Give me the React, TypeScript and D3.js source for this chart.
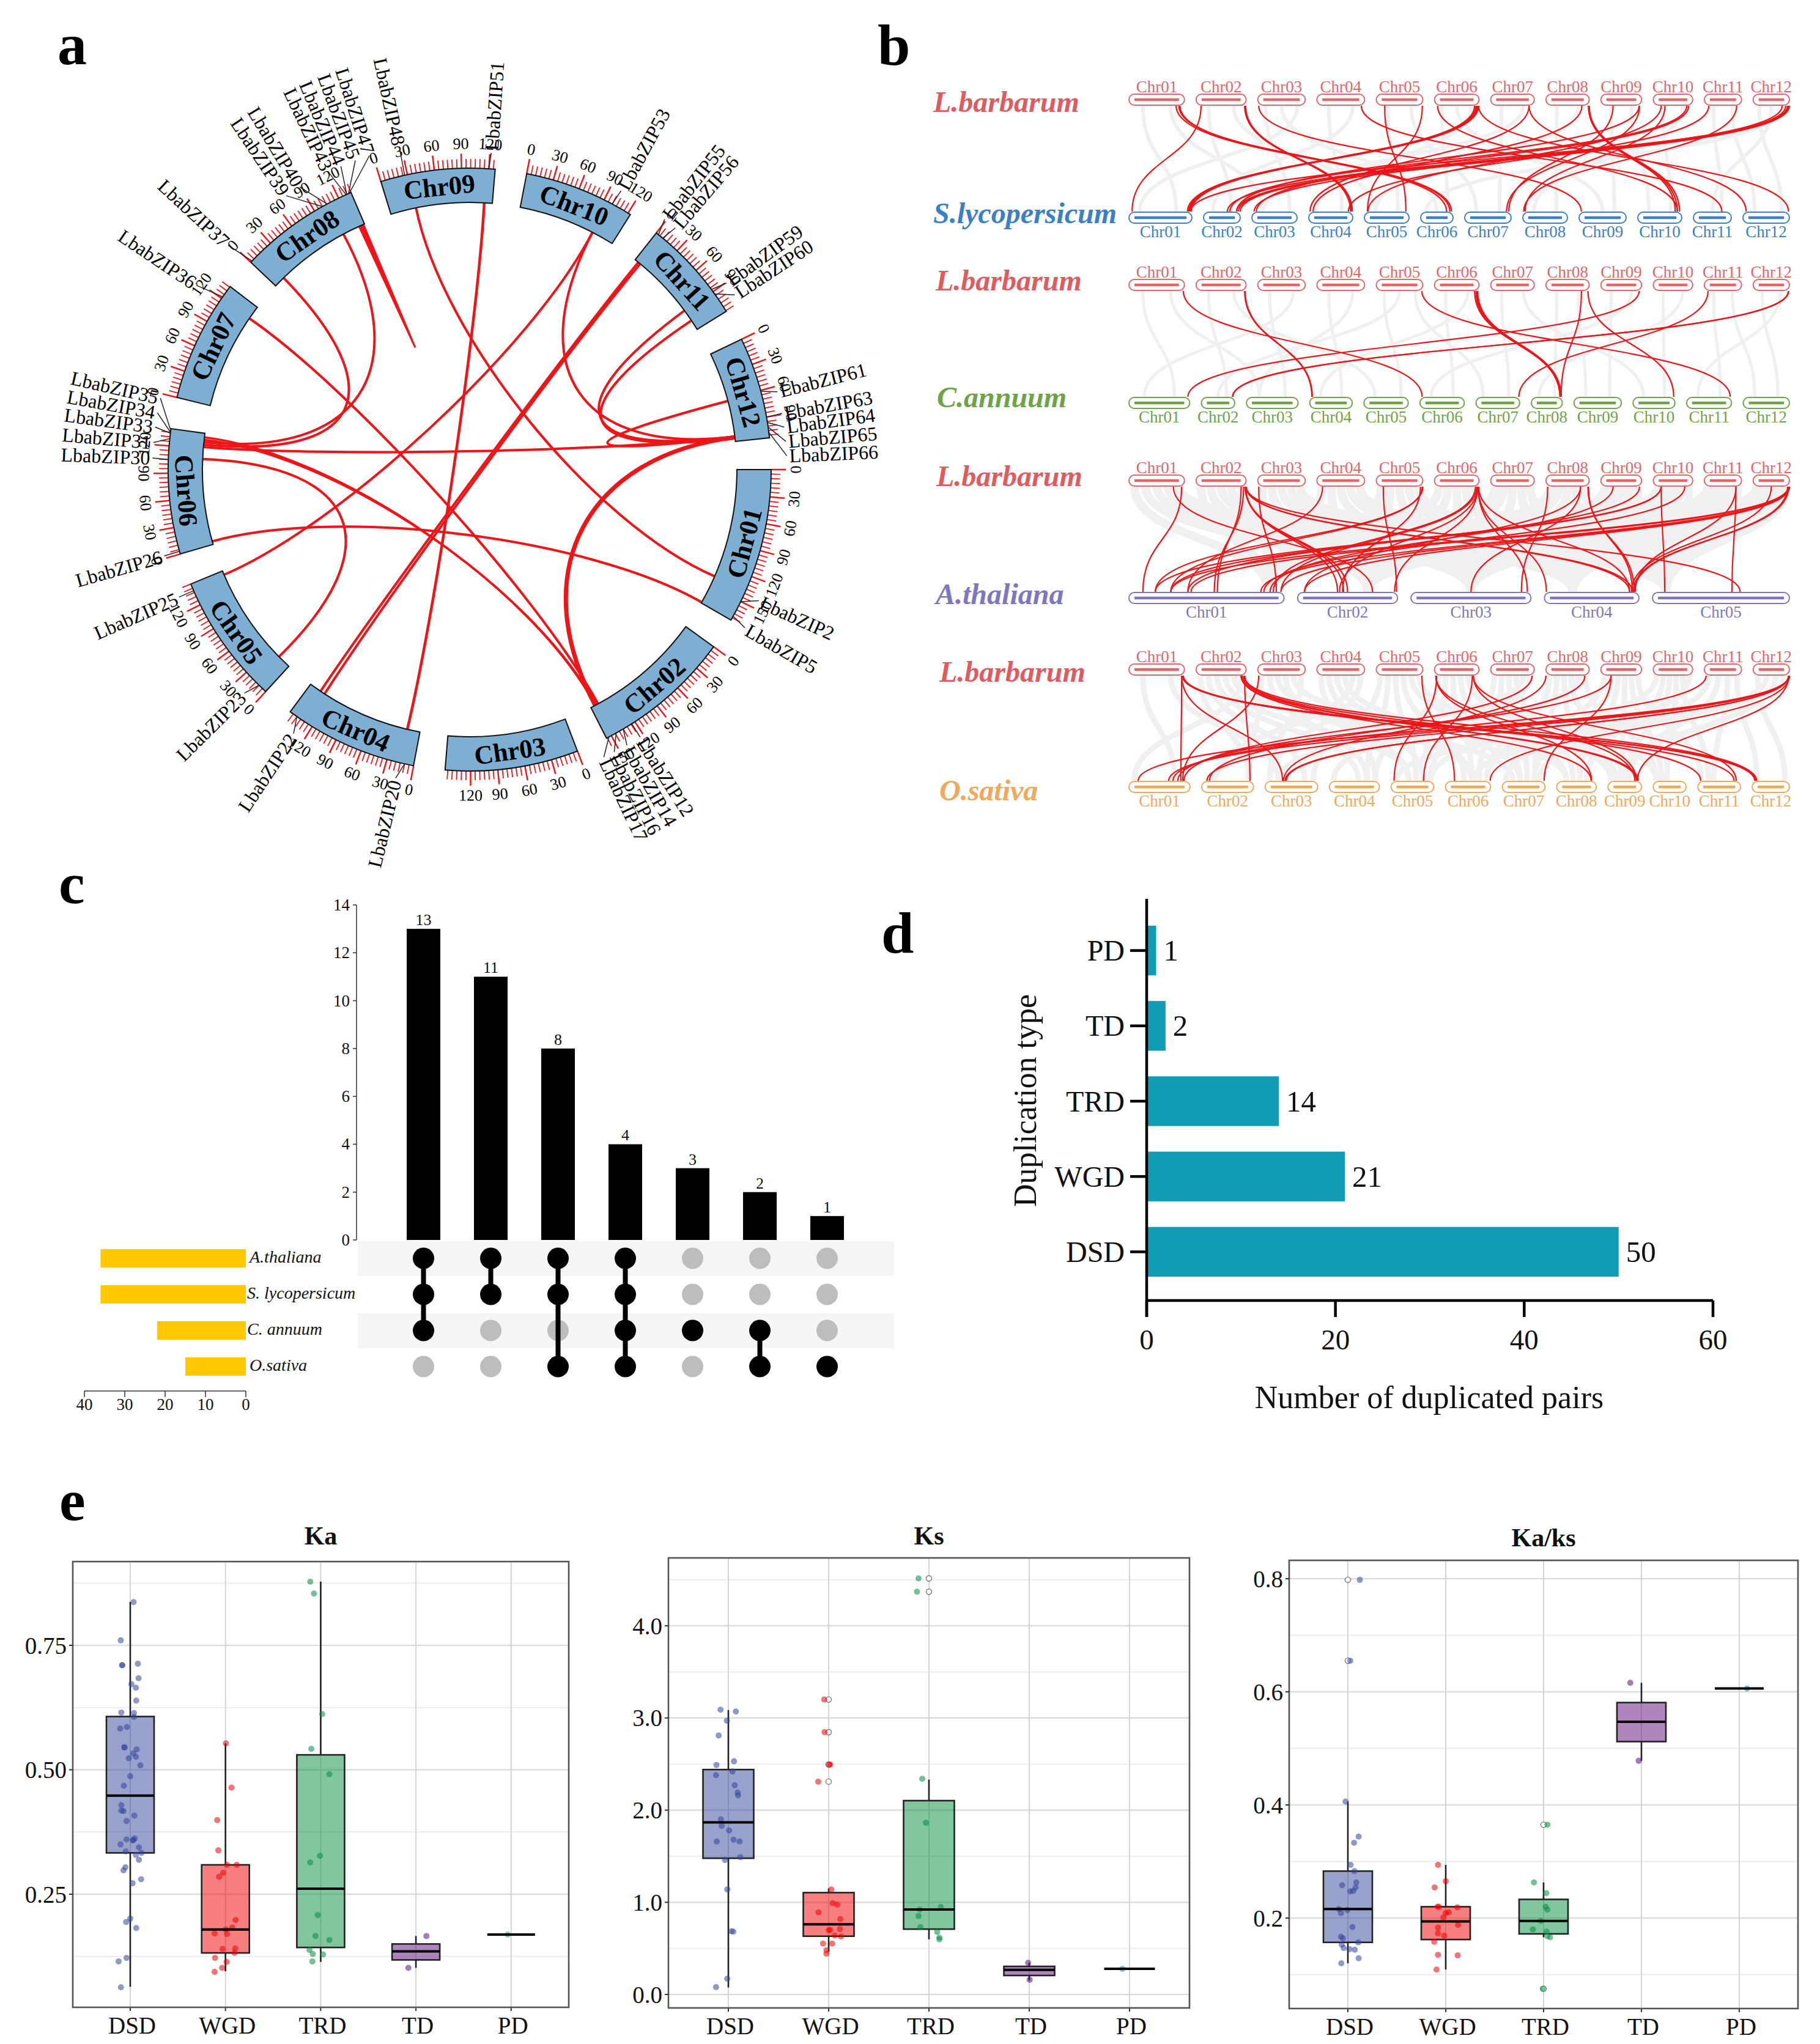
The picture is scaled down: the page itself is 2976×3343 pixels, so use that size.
import React from 'react';
import * as d3 from 'd3';

const SERIF = "'Liberation Serif', 'Times New Roman', serif";
const RED = '#ee1418';

// ---------- panel a + b: genome
const chromNames = ['Chr01', 'Chr02', 'Chr03', 'Chr04', 'Chr05', 'Chr06', 'Chr07', 'Chr08', 'Chr09', 'Chr10', 'Chr11', 'Chr12'];
const chromLengths = [173, 156, 148, 149, 145, 139, 136, 135, 127, 123, 116, 113];

const geneNames = ['LbabZIP2', 'LbabZIP5', 'LbabZIP12', 'LbabZIP14', 'LbabZIP16', 'LbabZIP17', 'LbabZIP20', 'LbabZIP22', 'LbabZIP23', 'LbabZIP25', 'LbabZIP26', 'LbabZIP30', 'LbabZIP31', 'LbabZIP33', 'LbabZIP34', 'LbabZIP35', 'LbabZIP36', 'LbabZIP37', 'LbabZIP39', 'LbabZIP40', 'LbabZIP43', 'LbabZIP44', 'LbabZIP45', 'LbabZIP47', 'LbabZIP48', 'LbabZIP51', 'LbabZIP53', 'LbabZIP55', 'LbabZIP56', 'LbabZIP59', 'LbabZIP60', 'LbabZIP61', 'LbabZIP63', 'LbabZIP64', 'LbabZIP65', 'LbabZIP66'];
const geneChroms = [1, 1, 2, 2, 2, 2, 4, 4, 5, 5, 6, 6, 6, 6, 6, 6, 7, 8, 8, 8, 8, 8, 8, 8, 9, 9, 10, 11, 11, 11, 11, 12, 12, 12, 12, 12];
const genePos = [150, 168, 124, 135, 144, 153, 10, 140, 10, 137, 3, 105, 128, 134, 135, 137, 122, 2, 100, 106, 129, 130, 132, 133, 27, 120, 100, 3, 9, 87, 93, 61, 90, 96, 101, 107];
// label fan-out angle, the labels do not sit exactly over their genes
const geneLabelDeg = [114.4, 119.9, 147.5, 150.3, 152.9, 155, 193.5, 213.7, 225.2, 246.3, 254.2, 272.1, 274.9, 277.7, 280.3, 283, 304, 312.9, 326.2, 329, 334.6, 337, 339.7, 342.3, 347.7, 3.9, 28.5, 37.9, 40.4, 54, 56.6, 75.8, 79.8, 82.3, 84.9, 87.5];

// chrA, mbA, chrB, mbB, weight
const circosLinks = [
  [8, 106, 6, 128, 4], [8, 14, 6, 125, 4], [7, 119, 2, 146, 4], [6, 134, 2, 150, 3.5], [6, 131, 2, 149, 3.5],
  [9, 32, 1, 136, 4], [9, 117, 4, 16, 4.5], [10, 95, 5, 140, 4], [10, 95, 12, 107, 4], [11, 5, 4, 134, 4],
  [11, 8, 4, 128, 4], [11, 88, 12, 107, 4], [11, 103, 12, 109, 4], [12, 62, 12, 107, 4], [12, 108, 2, 150, 7],
  [6, 4, 1, 172, 4], [6, 107, 5, 17, 4], [6, 122, 12, 107, 4],
];
const truncatedLink = { chrom: 8, pos: 130, depth: 0.5 };

const rowTop = chromLengths;
const rowTomato = [103, 60, 74, 72, 73, 53, 76, 73, 77, 72, 62, 76];
const rowPepper = [100, 55, 85, 70, 73, 73, 72, 51, 78, 69, 74, 76];
const rowArabidopsis = [256, 165, 198, 156, 226];
const rowRice = [100, 85, 86, 82, 70, 74, 70, 65, 55, 54, 70, 61];

// chrom top, fraction along it, chrom bottom, fraction along it
const redTomato = [
  [1, .85, 6, .8], [1, .9, 6, .95], [1, .92, 6, .9], [2, .1, 1, .05], [2, .97, 4, .95], [2, .98, 4, .97], [2, .99, 4, .99],
  [3, .02, 9, .05], [4, .93, 11, .75], [5, .18, 5, .93], [5, .99, 5, .07], [6, .07, 10, .9], [6, .9, 1, .93], [6, .93, 1, .95],
  [6, .95, 1, .96], [6, .97, 1, .97], [6, .99, 1, .99], [6, .99, 12, .98], [7, .88, 4, .03], [7, .88, 12, .07], [8, .83, 4, .1],
  [8, .98, 10, .85], [8, .99, 10, .9], [8, 1, 10, .95], [9, .3, 7, .95], [9, .94, 2, .9], [10, .2, 5, .08], [10, .85, 2, .72],
  [10, .9, 3, .1], [11, .12, 4, .9], [11, .87, 8, .02], [12, .8, 2, .65], [12, .9, 2, .9], [12, .95, 2, .95], [12, .97, 1, .98],
  [12, .99, 2, 1], [12, 1, 3, .05], [9, .95, 7, .9], [10, .3, 8, .05],
];
const redPepper = [
  [1, .98, 6, .05], [2, .97, 4, .05], [2, .98, 4, .06], [5, .98, 11, .97], [6, .9, 8, .92], [6, .93, 8, .94], [6, .95, 8, .95],
  [6, .97, 8, .96], [8, .82, 8, .96], [8, .97, 10, .97], [9, .94, 1, .97], [11, .1, 7, .98], [12, .97, 2, .93], [12, .98, 2, .94],
];
const redArabidopsis = [
  [1, .95, 1, .09], [1, .8, 2, .75], [2, .99, 2, .4], [2, .99, 2, .46], [2, .98, 2, .5], [2, .95, 1, .55], [2, .9, 1, .57],
  [2, 1, 4, .9], [2, 1, 4, .93], [2, 1, 5, .64], [3, .02, 1, .95], [4, .12, 1, .38], [5, .15, 2, .99], [5, 1, 1, .17],
  [5, .99, 1, .27], [5, .95, 2, .45], [6, .92, 1, .93], [6, .95, 1, .98], [6, .97, 2, .42], [6, .97, 2, .97], [6, .98, 4, .02],
  [6, .98, 3, .97], [6, .99, 4, .9], [8, .04, 3, .92], [8, .8, 3, .5], [8, .8, 2, .07], [8, .98, 4, .93], [8, .97, 4, .95],
  [9, .3, 1, .91], [9, .95, 1, .38], [10, .2, 1, .17], [10, .2, 1, .27], [10, .2, 5, .09], [10, .8, 1, .87], [11, .85, 5, .58],
  [11, .85, 4, .96], [12, .5, 4, .92], [12, .95, 4, .94], [12, .98, 4, .95], [12, .97, 1, .27], [12, .98, 1, .4], [12, .98, 1, .85],
  [12, 1, 1, .98], [12, 1, 2, .07],
];
const redRice = [
  [1, .95, 1, .85], [1, .95, 3, .33], [1, .96, 12, .07], [1, .97, 12, .1], [1, .98, 12, .12], [1, .97, 11, .85], [2, .9, 8, .87],
  [2, .9, 9, .85], [2, .92, 11, .07], [2, .97, 2, .93], [2, .95, 12, .11], [2, .97, 9, .9], [3, .02, 1, .88], [5, .98, 6, .2],
  [6, .05, 5, .07], [6, .03, 8, .88], [6, .03, 9, .8], [6, .85, 5, .76], [6, .87, 9, .85], [6, .87, 11, .9], [7, .95, 1, .9],
  [8, 0, 3, .35], [8, .9, 2, .15], [9, .25, 7, .98], [9, .25, 1, .8], [11, .05, 1, .72], [12, 1, 1, .15], [12, 1, 1, .65],
  [12, 1, 6, .99], [12, .98, 9, .88], [12, .98, 3, .4], [12, .98, 2, .1], [12, .99, 3, .38],
];

// background synteny: for every top chromosome the bottom chromosomes it pairs with
const grayTomato = [[1, 3], [2, 5], [3, 6, 1], [4, 2], [5, 7], [6, 9, 4], [7, 3], [8, 5], [9, 10], [10, 8], [11, 12], [12, 11, 6]];
const grayPepper = [[1, 3], [2, 5], [3, 1], [4, 3], [5, 2, 7], [6, 4], [7, 10], [8, 9], [9, 6], [10, 8], [11, 12], [12, 11]];
const grayArabidopsis = [[1, 2, 3, 4, 5], [1, 2, 3, 4, 5], [1, 2, 3, 4, 5], [1, 2, 3, 4, 5], [1, 2, 3, 4, 5], [1, 2, 3, 4, 5], [1, 2, 3, 4, 5], [1, 2, 3, 4, 5], [1, 2, 3, 4, 5], [1, 2, 3, 4, 5], [1, 2, 3, 4, 5], [1, 2, 3, 4, 5]];
const grayRice = [[1, 3], [2, 3, 4, 5, 7, 1], [2, 4, 6, 5, 8, 3], [4, 5, 6, 7, 2, 3], [3, 4, 5, 6, 8, 9], [4, 5, 6, 7, 9, 10], [5, 6, 7, 8, 2, 4], [6, 7, 8, 9, 3, 10], [6, 7, 8, 9, 10, 11], [5, 8, 9, 10, 11, 7], [7, 9, 11, 12], [12, 6, 9, 5]];

// ---------- panel c
const setNames = ['A.thaliana', 'S. lycopersicum', 'C. annuum', 'O.sativa'];
const setSizes = [36, 36, 22, 15];
const intersectionSizes = [13, 11, 8, 4, 3, 2, 1];
const intersectionMembers = [[0, 1, 2], [0, 1], [0, 1, 3], [0, 1, 2, 3], [2], [2, 3], [3]];

// ---------- panel d
const dupTypes = ['PD', 'TD', 'TRD', 'WGD', 'DSD'];
const dupCounts = [1, 2, 14, 21, 50];

// ---------- panel e
const boxTypes = ['DSD', 'WGD', 'TRD', 'TD', 'PD'];
const boxColors = ['#334599', '#f00000', '#058d3f', '#5d0d7b', '#00a0a0'];

const kaLow = [.064, .095, .114, .102, .169];
const kaQ1 = [.333, .132, .143, .118, .169];
const kaMedian = [.448, .179, .261, .135, .169];
const kaQ3 = [.607, .309, .53, .15, .169];
const kaHigh = [.837, .553, .878, .166, .169];
// [jitter, value]
const kaPoints = [
  [[.035, .837], [-.1, .76], [-.083, .71], [-.087, .71], [.079, .713], [.087, .684], [.012, .672], [.059, .665], [.063, .639], [-.094, .615], [.039, .614], [.039, .606], [-.106, .583], [-.035, .586], [-.063, .545], [-.059, .545], [.067, .541], [.031, .533], [.059, .526], [-.016, .523], [.106, .509], [0, .487], [-.067, .468], [-.094, .429], [-.094, .418], [-.071, .417], [.043, .408], [-.039, .397], [-.039, .36], [.031, .359], [.047, .362], [.028, .358], [-.102, .35], [.091, .344], [-.047, .336], [.118, .333], [.059, .329], [.091, .319], [-.051, .304], [-.071, .298], [.114, .28], [.024, .272], [0, .201], [-.043, .194], [.063, .182], [-.039, .122], [-.122, .115], [-.098, .063]],
  [[.004, .553], [.063, .464], [-.087, .399], [-.075, .338], [.016, .309], [.118, .309], [-.024, .293], [-.067, .285], [.106, .198], [.071, .183], [.004, .179], [-.114, .171], [.016, .17], [-.031, .14], [.102, .141], [.094, .132], [-.11, .122], [.012, .114], [-.035, .102], [-.114, .094]],
  [[-.11, .878], [-.071, .854], [.016, .612], [-.098, .542], [.091, .491], [-.008, .327], [-.11, .314], [-.031, .208], [-.055, .166], [.091, .158], [-.118, .138], [-.083, .13], [.024, .129], [-.087, .115]],
  [[.11, .166], [-.079, .102]],
  [[-.035, .169]],
];
const kaOutliers = [[], [], [], [], []];

const ksLow = [.076, .465, .598, .152, .278];
const ksQ1 = [1.478, .632, .709, .206, .278];
const ksMedian = [1.867, .762, .922, .267, .278];
const ksQ3 = [2.44, 1.105, 2.103, .305, .278];
const ksHigh = [3.086, 1.15, 2.331, .343, .278];
const ksPoints = [
  [[-.078, 3.09], [.075, 3.07], [-.015, 2.97], [-.097, 2.81], [-.119, 2.49], [.056, 2.53], [.041, 2.42], [-.123, 2.38], [.063, 2.27], [.093, 2.19], [.097, 2.16], [-.075, 1.9], [-.067, 1.83], [.007, 1.78], [-.116, 1.66], [.052, 1.68], [.112, 1.66], [.119, 1.49], [-.034, 1.46], [-.011, 1.14], [.03, .686], [.049, .682], [-.011, .171], [-.123, .08]],
  [[-.045, 3.2], [-.041, 2.846], [.004, 2.495], [.015, 2.495], [-.104, 2.309], [.026, 1.139], [.041, .99], [.086, .975], [-.101, .891], [.116, .819], [0, .697], [.015, .7], [.112, .709], [.06, .64], [.123, .629], [-.056, .552], [.034, .552], [-.022, .48], [-.022, .442]],
  [[-.104, 4.514], [-.119, 4.37], [-.067, 2.34], [-.03, 1.863], [.119, .949], [-.093, .922], [-.104, .85], [-.086, .731], [.082, .678], [.104, .617], [.104, .598]],
  [[-.011, .343], [.004, .16]],
  [[-.071, .278]],
];
const ksOutliers = [[], [3.2, 2.846, 2.495, 2.309], [4.514, 4.37], [], []];

const kaksLow = [.12, .109, .166, .478, .606];
const kaksQ1 = [.157, .162, .172, .512, .606];
const kaksMedian = [.216, .194, .195, .547, .606];
const kaksQ3 = [.283, .22, .233, .581, .606];
const kaksHigh = [.406, .294, .263, .616, .606];
const kaksPoints = [
  [[.122, .798], [.024, .655], [-.024, .406], [.11, .344], [.063, .333], [.028, .294], [.067, .283], [.086, .263], [-.059, .258], [.079, .254], [.055, .248], [.024, .247], [-.094, .216], [-.004, .214], [-.071, .209], [.047, .184], [-.071, .167], [-.051, .164], [.106, .157], [-.063, .153], [-.043, .147], [.016, .145], [.071, .144], [.11, .129], [-.067, .12]],
  [[-.079, .294], [0, .265], [-.114, .254], [-.083, .22], [-.071, .22], [.118, .219], [0, .209], [.031, .21], [-.024, .201], [-.079, .183], [.126, .188], [-.079, .173], [-.016, .169], [-.118, .158], [-.079, .135], [.122, .134], [-.094, .109]],
  [[.039, .365], [-.098, .263], [.028, .244], [.02, .22], [.039, .215], [-.028, .195], [-.11, .18], [.031, .176], [.039, .168], [.067, .166], [-.008, .075]],
  [[-.114, .616], [-.028, .478]],
  [[.079, .606]],
];
const kaksOutliers = [[.798, .655], [], [.365, .075], [], []];

// ---------- panel a
const CX = 768;
const CY = 768;
const R_IN = 437;
const R_OUT = 493;
const GAP_DEG = 6.05;
const DEG_PER_MB = (360 - GAP_DEG * chromLengths.length) / d3.sum(chromLengths);

const chromStartDeg = chromLengths.map((_, i) => 90 + d3.sum(chromLengths.slice(0, i)) * DEG_PER_MB + i * GAP_DEG);
const chromDeg = (chrom: number, mb: number) => chromStartDeg[chrom - 1] + mb * DEG_PER_MB;
const polar = (deg: number, r: number): [number, number] => {
  const a = (deg * Math.PI) / 180;
  return [r * Math.sin(a), -r * Math.cos(a)];
};
const tangentRotation = (deg: number) => {
  const d = ((deg % 360) + 360) % 360;
  return d > 90 && d < 270 ? d - 180 : d > 270 ? d - 360 : d;
};

const Circos = () => {
  const arc = d3.arc();
  return (
    <g transform={`translate(${CX},${CY})`} fontFamily={SERIF}>
      {circosLinks.map(([ca, ma, cb, mb, w], i) => {
        const da = chromDeg(ca, ma);
        const db = chromDeg(cb, mb);
        const [ax, ay] = polar(da, R_IN);
        const [bx, by] = polar(db, R_IN);
        // close pairs dip less towards the centre than wide pairs
        const sep = Math.abs(((da - db + 540) % 360) - 180);
        const k = 0.36 + (0.2 * sep) / 180;
        const p = d3.path();
        p.moveTo(ax, ay);
        p.bezierCurveTo(ax * k, ay * k, bx * k, by * k, bx, by);
        return <path key={i} d={p.toString()} fill="none" stroke={RED} strokeWidth={w} />;
      })}
      {(() => {
        const d = chromDeg(truncatedLink.chrom, truncatedLink.pos);
        const [ax, ay] = polar(d - 0.4, R_IN);
        const [cx, cy] = polar(d + 0.6, R_IN);
        const [bx, by] = polar(d, R_IN * truncatedLink.depth);
        return <path d={`M${ax},${ay}L${cx},${cy}L${bx},${by}Z`} fill={RED} stroke={RED} strokeWidth={3} />;
      })()}
      {chromNames.map((name, i) => {
        const chrom = i + 1;
        const len = chromLengths[i];
        const s = chromDeg(chrom, 0);
        const e = chromDeg(chrom, len);
        const mid = (s + e) / 2;
        const [lx, ly] = polar(mid, (R_IN + R_OUT) / 2);
        return (
          <g key={name}>
            {d3.range(0, len + 1, 5).map((mb) => {
              const deg = chromDeg(chrom, mb);
              const major = mb % 30 === 0;
              const [x0, y0] = polar(deg, R_OUT);
              const [x1, y1] = polar(deg, R_OUT + (major ? 24 : 15));
              return <line key={mb} x1={x0} y1={y0} x2={x1} y2={y1} stroke={RED} strokeWidth={major ? 2.5 : 1.8} />;
            })}
            <path
              d={arc({ innerRadius: R_IN, outerRadius: R_OUT, startAngle: (s * Math.PI) / 180, endAngle: (e * Math.PI) / 180 }) as string}
              fill="#7eafd3"
              stroke="#111"
              strokeWidth={2}
            />
            <text
              transform={`translate(${lx},${ly}) rotate(${tangentRotation(mid)})`}
              textAnchor="middle"
              dominantBaseline="central"
              fontWeight="bold"
              fontSize={43}
            >
              {name}
            </text>
            {d3.range(0, len + 1, 30).map((mb) => {
              const deg = chromDeg(chrom, mb);
              const [x, y] = polar(deg, R_OUT + 40);
              return (
                <text
                  key={mb}
                  transform={`translate(${x},${y}) rotate(${tangentRotation(deg)})`}
                  textAnchor="middle"
                  dominantBaseline="central"
                  fontSize={26}
                >
                  {mb}
                </text>
              );
            })}
          </g>
        );
      })}
      {geneNames.map((name, i) => {
        const ring = chromDeg(geneChroms[i], genePos[i]);
        const deg = geneLabelDeg[i];
        const d = ((deg % 360) + 360) % 360;
        const right = d < 180;
        // the upper left labels stand further out
        const extra = d > 300 ? 20 : 0;
        const [x0, y0] = polar(ring, R_OUT);
        const [x1, y1] = polar(deg, R_OUT + 26 + extra);
        const [tx, ty] = polar(deg, R_OUT + 30 + extra);
        return (
          <g key={name}>
            <line x1={x0} y1={y0} x2={x1} y2={y1} stroke="#222" strokeWidth={1.5} />
            <text
              transform={`translate(${tx},${ty}) rotate(${right ? d - 90 : d + 90})`}
              textAnchor={right ? 'start' : 'end'}
              dominantBaseline="central"
              fontSize={32}
            >
              {name}
            </text>
          </g>
        );
      })}
    </g>
  );
};

// ---------- panel b
const SYN_X0 = 1846;
const SYN_X1 = 2926;
const layoutRow = (lengths: number[], gap = 19) => {
  const w = d3.scaleLinear().domain([0, d3.sum(lengths)]).range([0, SYN_X1 - SYN_X0 - gap * (lengths.length - 1)]);
  return lengths.map((len, i) => {
    const x0 = SYN_X0 + w(d3.sum(lengths.slice(0, i))) + i * gap;
    const x1 = x0 + w(len) - w(0);
    return { x: d3.scaleLinear().domain([0, 1]).range([x0, x1]), x0, x1, name: chromNames[i] };
  });
};

const Karyotype = ({ row, y, color, labelDy }) => (
  <g fontFamily={SERIF}>
    {row.map((c) => (
      <g key={c.name}>
        <rect x={c.x0} y={y - 9} width={c.x1 - c.x0} height={18} rx={9} fill="#fff" fillOpacity={0.85} stroke={color} strokeWidth={2} />
        <line x1={c.x0 + 9} x2={c.x1 - 9} y1={y} y2={y} stroke={color} strokeWidth={4.5} />
        <text x={(c.x0 + c.x1) / 2} y={y + labelDy} textAnchor="middle" fontSize={27} fill={color}>
          {c.name}
        </text>
      </g>
    ))}
  </g>
);

const Synteny = ({ yTop, yBottom, bottomRow, bottomColor, bottomName, nameXTop, nameXBottom, nameYTop, nameYBottom, red, gray, grayWidth }) => {
  const topRow = layoutRow(rowTop);
  const bottom = layoutRow(bottomRow, bottomRow.length < 6 ? 22 : 19);
  const link = d3.linkVertical().x((d: any) => d[0]).y((d: any) => d[1]);
  const yA = yTop + 10;
  const yB = yBottom - 10;
  return (
    <g>
      {gray.map((bots, t) =>
        bots.map((b, k) => {
          const frac = (k + 0.5) / bots.length;
          const d = link({ source: [topRow[t].x(frac), yA], target: [bottom[b - 1].x(1 - frac), yB] } as any) as string;
          return <path key={`${t}-${k}`} d={d} fill="none" stroke="#f0f0f0" strokeWidth={grayWidth} />;
        }),
      )}
      {red.map(([t, tf, b, bf], i) => {
        const d = link({ source: [topRow[t - 1].x(tf), yA], target: [bottom[b - 1].x(bf), yB] } as any) as string;
        return <path key={i} d={d} fill="none" stroke={RED} strokeWidth={2.2} />;
      })}
      <Karyotype row={topRow} y={yTop} color="#e2666b" labelDy={-12} />
      <Karyotype row={bottom} y={yBottom} color={bottomColor} labelDy={32} />
      <text x={nameXTop} y={nameYTop} fontFamily={SERIF} fontWeight="bold" fontStyle="italic" fontSize={48} fill="#e05b60">
        L.barbarum
      </text>
      <text x={nameXBottom} y={nameYBottom} fontFamily={SERIF} fontWeight="bold" fontStyle="italic" fontSize={48} fill={bottomColor}>
        {bottomName}
      </text>
    </g>
  );
};

// ---------- panel c
const UpSet = () => {
  const x = d3.scaleBand().domain(d3.range(intersectionSizes.length).map(String)).range([665, 1380]).paddingInner(0.5);
  const y = d3.scaleLinear().domain([0, 14]).range([2028, 1480]);
  const rowY = d3.scalePoint().domain(setNames).range([2058, 2235]);
  const setX = d3.scaleLinear().domain([0, 40]).range([402, 138]);
  const cx = (i: number) => (x(String(i)) as number) + x.bandwidth() / 2;
  return (
    <g fontFamily={SERIF} fill="#111">
      <rect x={585} y={2030} width={877} height={57} fill="#f5f5f5" />
      <rect x={585} y={2148} width={877} height={57} fill="#f5f5f5" />
      <line x1={583} x2={583} y1={y(14)} y2={y(0)} stroke="#333" strokeWidth={1.5} />
      {y.ticks(7).map((t) => (
        <g key={t}>
          <line x1={577} x2={583} y1={y(t)} y2={y(t)} stroke="#333" strokeWidth={1.5} />
          <text x={572} y={y(t)} textAnchor="end" dominantBaseline="central" fontSize={27}>{t}</text>
        </g>
      ))}
      {intersectionSizes.map((v, i) => (
        <g key={i}>
          <rect x={x(String(i))} y={y(v)} width={x.bandwidth()} height={y(0) - y(v)} fill="#000" />
          <text x={cx(i)} y={y(v) - 6} textAnchor="middle" fontSize={26}>{v}</text>
        </g>
      ))}
      {intersectionMembers.map((members, i) => {
        const ys = members.map((m) => rowY(setNames[m]) as number);
        return (
          <g key={i}>
            {setNames.map((s, k) => (
              <circle key={s} cx={cx(i)} cy={rowY(s)} r={17.5} fill={members.includes(k) ? '#000' : '#bdbdbd'} />
            ))}
            {members.length > 1 && <line x1={cx(i)} x2={cx(i)} y1={d3.min(ys)} y2={d3.max(ys)} stroke="#000" strokeWidth={8} />}
          </g>
        );
      })}
      {setNames.map((s, i) => (
        <g key={s}>
          <rect x={setX(setSizes[i])} y={(rowY(s) as number) - 15} width={setX(0) - setX(setSizes[i])} height={30} fill="#ffc800" />
          <text x={i === 0 || i === 3 ? 408 : 404} y={(rowY(s) as number) - 3} dominantBaseline="central" fontStyle="italic" fontSize={28}>{s}</text>
        </g>
      ))}
      <line x1={setX(40)} x2={setX(0)} y1={2275} y2={2275} stroke="#333" strokeWidth={1.5} />
      {setX.ticks(4).map((t) => (
        <g key={t}>
          <line x1={setX(t)} x2={setX(t)} y1={2275} y2={2285} stroke="#333" strokeWidth={1.5} />
          <text x={setX(t)} y={2297} textAnchor="middle" dominantBaseline="central" fontSize={27}>{t}</text>
        </g>
      ))}
    </g>
  );
};

// ---------- panel d
const DupBars = () => {
  const x = d3.scaleLinear().domain([0, 60]).range([1875, 2801]);
  const y = d3.scaleBand().domain(dupTypes).range([1493, 2109]).paddingInner(0.34).paddingOuter(0.17);
  const yAxis = 2127;
  return (
    <g fontFamily={SERIF} fill="#111">
      {dupTypes.map((t, i) => {
        const yc = (y(t) as number) + y.bandwidth() / 2;
        return (
          <g key={t}>
            <rect x={x(0)} y={y(t)} width={x(dupCounts[i]) - x(0)} height={y.bandwidth()} fill="#119bb5" />
            <line x1={x(0) - 27} x2={x(0)} y1={yc} y2={yc} stroke="#000" strokeWidth={4.5} />
            <text x={x(0) - 36} y={yc} textAnchor="end" dominantBaseline="central" fontSize={48}>{t}</text>
            <text x={x(dupCounts[i]) + 12} y={yc} dominantBaseline="central" fontSize={49}>{dupCounts[i]}</text>
          </g>
        );
      })}
      <line x1={x(0)} x2={x(0)} y1={1470} y2={yAxis + 27} stroke="#000" strokeWidth={4.5} />
      <line x1={x(0)} x2={x(60)} y1={yAxis} y2={yAxis} stroke="#000" strokeWidth={4.5} />
      {x.ticks(3).map((t) => (
        <g key={t}>
          <line x1={x(t)} x2={x(t)} y1={yAxis} y2={yAxis + 27} stroke="#000" strokeWidth={4.5} />
          <text x={x(t)} y={2191} textAnchor="middle" dominantBaseline="central" fontSize={47}>{t}</text>
        </g>
      ))}
      <text x={2337} y={2285} textAnchor="middle" dominantBaseline="central" fontSize={52}>Number of duplicated pairs</text>
      <text transform="translate(1676,1800) rotate(-90)" textAnchor="middle" dominantBaseline="central" fontSize={52}>Duplication type</text>
    </g>
  );
};

// ---------- panel e
const BoxPanel = ({ title, titleY, frame, firstCat, catStep, boxWidth, yDomain, yRange, majors, minors, fmt, low, q1, median, q3, high, points, outliers }) => {
  const x = d3.scalePoint().domain(boxTypes).range([firstCat, firstCat + catStep * 4]);
  const y = d3.scaleLinear().domain(yDomain).range(yRange);
  const { left, right, top, bottom } = frame;
  return (
    <g fontFamily={SERIF} fill="#111">
      <text x={(left + right) / 2} y={titleY} textAnchor="middle" fontWeight="bold" fontSize={42}>{title}</text>
      {minors.map((t) => <line key={t} x1={left} x2={right} y1={y(t)} y2={y(t)} stroke="#ececec" strokeWidth={2} />)}
      {majors.map((t) => <line key={t} x1={left} x2={right} y1={y(t)} y2={y(t)} stroke="#dcdcdc" strokeWidth={2.5} />)}
      {boxTypes.map((t) => <line key={t} x1={x(t)} x2={x(t)} y1={top} y2={bottom} stroke="#d4d4d4" strokeWidth={2} />)}
      {boxTypes.map((t, i) => {
        const cx = x(t) as number;
        const bx = cx - boxWidth / 2;
        const single = q3[i] === q1[i];
        return (
          <g key={t}>
            {!single && <line x1={cx} x2={cx} y1={y(high[i])} y2={y(q3[i])} stroke="#222" strokeWidth={2.6} />}
            {!single && <line x1={cx} x2={cx} y1={y(q1[i])} y2={y(low[i])} stroke="#222" strokeWidth={2.6} />}
            {!single && <rect x={bx} y={y(q3[i])} width={boxWidth} height={y(q1[i]) - y(q3[i])} fill={boxColors[i]} fillOpacity={0.5} stroke="#222" strokeWidth={2.6} />}
            {outliers[i].map((v) => <circle key={v} cx={cx} cy={y(v)} r={4.5} fill="#fff" stroke="#777" strokeWidth={1.4} />)}
            {points[i].map(([j, v], k) => <circle key={k} cx={cx + j * catStep} cy={y(v)} r={5} fill={boxColors[i]} fillOpacity={0.55} />)}
            <line x1={bx} x2={bx + boxWidth} y1={y(median[i])} y2={y(median[i])} stroke="#000" strokeWidth={4} />
            <line x1={cx} x2={cx} y1={bottom} y2={bottom + 6} stroke="#333" strokeWidth={2} />
            <text x={cx + 3} y={bottom + 29} textAnchor="middle" dominantBaseline="central" fontSize={39}>{t}</text>
          </g>
        );
      })}
      <rect x={left} y={top} width={right - left} height={bottom - top} fill="none" stroke="#555" strokeWidth={2.6} />
      {majors.map((t) => (
        <g key={t}>
          <line x1={left - 6} x2={left} y1={y(t)} y2={y(t)} stroke="#333" strokeWidth={2} />
          <text x={left - 10} y={y(t)} textAnchor="end" dominantBaseline="central" fontSize={39}>{fmt(t)}</text>
        </g>
      ))}
    </g>
  );
};

const panelLetters = [['a', 94, 105], ['b', 1435, 106], ['c', 96, 1477], ['d', 1441, 1558], ['e', 97, 2486]];

export default function App() {
  return (
    <svg width={2976} height={3343} style={{ position: 'absolute', left: 0, top: 0, background: '#fff' }}>
      {panelLetters.map(([t, x, y]) => (
        <text key={t} x={x} y={y} fontFamily={SERIF} fontWeight="bold" fontSize={96} fill="#000">{t}</text>
      ))}
      <Circos />
      <Synteny yTop={163} yBottom={356} bottomRow={rowTomato} bottomColor="#3b7fc4" bottomName="S.lycopersicum" nameXTop={1526} nameXBottom={1526} nameYTop={183} nameYBottom={365} red={redTomato} gray={grayTomato} grayWidth={6} />
      <Synteny yTop={466} yBottom={659} bottomRow={rowPepper} bottomColor="#6fa347" bottomName="C.annuum" nameXTop={1530} nameXBottom={1532} nameYTop={475} nameYBottom={666} red={redPepper} gray={grayPepper} grayWidth={5} />
      <Synteny yTop={786} yBottom={978} bottomRow={rowArabidopsis} bottomColor="#7e77bf" bottomName="A.thaliana" nameXTop={1531} nameXBottom={1530} nameYTop={795} nameYBottom={988} red={redArabidopsis} gray={grayArabidopsis} grayWidth={14} />
      <Synteny yTop={1095} yBottom={1287} bottomRow={rowRice} bottomColor="#efa85c" bottomName="O.sativa" nameXTop={1536} nameXBottom={1536} nameYTop={1115} nameYBottom={1309} red={redRice} gray={grayRice} grayWidth={9} />
      <UpSet />
      <DupBars />
      <BoxPanel
        title="Ka" titleY={2526} frame={{ left: 119, right: 930, top: 2554, bottom: 3283 }} firstCat={213} catStep={155.7} boxWidth={78}
        yDomain={[0.25, 0.75]} yRange={[3098, 2691]} majors={[0.25, 0.5, 0.75]} minors={[0.125, 0.375, 0.625, 0.875]} fmt={d3.format('.2f')}
        low={kaLow} q1={kaQ1} median={kaMedian} q3={kaQ3} high={kaHigh} points={kaPoints} outliers={kaOutliers}
      />
      <BoxPanel
        title="Ks" titleY={2526} frame={{ left: 1093, right: 1945, top: 2548, bottom: 3284 }} firstCat={1191} catStep={164} boxWidth={83}
        yDomain={[0, 4]} yRange={[3262, 2659]} majors={[0, 1, 2, 3, 4]} minors={[0.5, 1.5, 2.5, 3.5, 4.5]} fmt={d3.format('.1f')}
        low={ksLow} q1={ksQ1} median={ksMedian} q3={ksQ3} high={ksHigh} points={ksPoints} outliers={ksOutliers}
      />
      <BoxPanel
        title="Ka/ks" titleY={2529} frame={{ left: 2108, right: 2940, top: 2552, bottom: 3285 }} firstCat={2204} catStep={160} boxWidth={80}
        yDomain={[0.2, 0.8]} yRange={[3137, 2582]} majors={[0.2, 0.4, 0.6, 0.8]} minors={[0.1, 0.3, 0.5, 0.7]} fmt={d3.format('.1f')}
        low={kaksLow} q1={kaksQ1} median={kaksMedian} q3={kaksQ3} high={kaksHigh} points={kaksPoints} outliers={kaksOutliers}
      />
    </svg>
  );
}
